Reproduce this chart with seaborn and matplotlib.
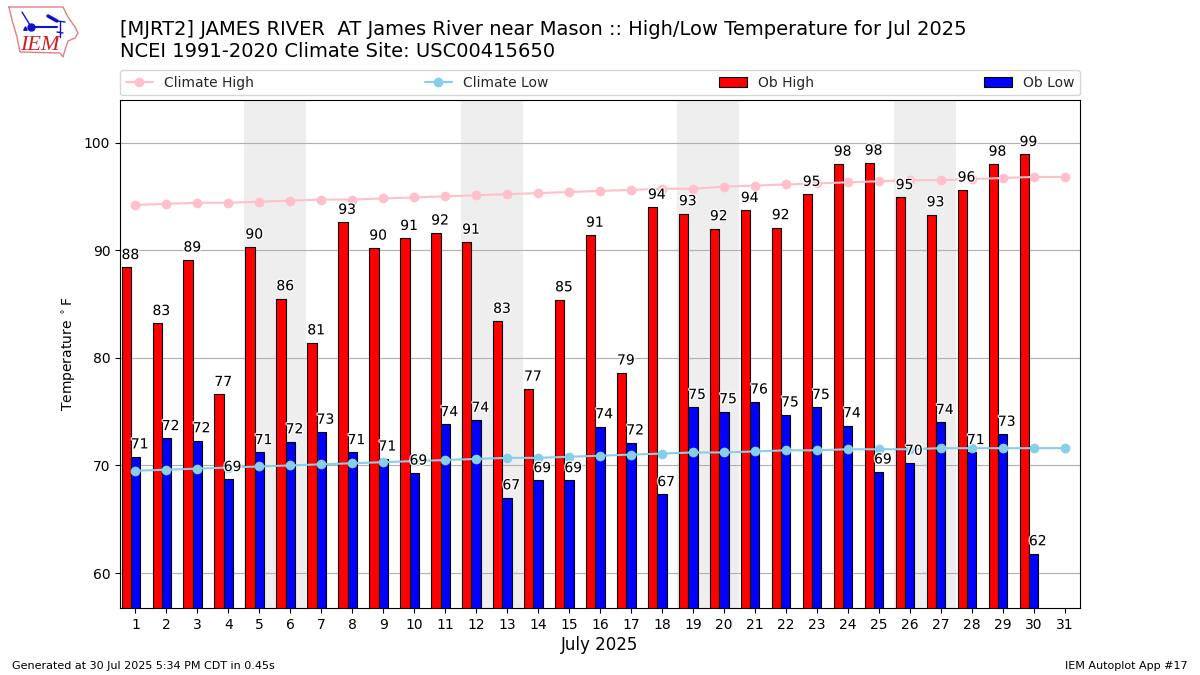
import numpy as np
import pandas as pd
import matplotlib
matplotlib.use("Agg")
import matplotlib.pyplot as plt
import matplotlib.patheffects as PathEffects
from matplotlib.patches import Patch
from matplotlib.lines import Line2D
import seaborn as sns

days = list(range(1, 32))
ob_high = [88.4, 83.2, 89.1, 76.6, 90.3, 85.5, 81.4, 92.6, 90.2, 91.1, 91.6, 90.75, 83.4, 77.1, 85.4,
           91.4, 78.6, 94.0, 93.4, 92.0, 93.7, 92.1, 95.2, 98.0, 98.1, 94.9, 93.3, 95.6, 98.0, 98.9, np.nan]
ob_low = [70.8, 72.5, 72.3, 68.7, 71.2, 72.2, 73.1, 71.2, 70.6, 69.3, 73.8, 74.2, 67.0, 68.6, 68.6,
          73.6, 72.1, 67.3, 75.4, 75.0, 75.9, 74.7, 75.4, 73.7, 69.4, 70.2, 74.0, 71.2, 72.9, 61.8, np.nan]
climate_high = [94.2, 94.3, 94.4, 94.4, 94.5, 94.6, 94.7, 94.7, 94.8, 94.9, 95.0, 95.1, 95.2, 95.3, 95.4, 95.5,
                95.6, 95.7, 95.7, 95.9, 96.0, 96.1, 96.2, 96.3, 96.4, 96.5, 96.5, 96.6, 96.7, 96.8, 96.8]
climate_low = [69.5, 69.6, 69.7, 69.8, 69.9, 70.0, 70.1, 70.2, 70.3, 70.4, 70.5, 70.6, 70.7, 70.7, 70.8, 70.9,
               71.0, 71.1, 71.2, 71.2, 71.3, 71.4, 71.4, 71.5, 71.5, 71.5, 71.6, 71.6, 71.6, 71.6, 71.6]
weekends = [5, 12, 19, 26]

title = ("[MJRT2] JAMES RIVER  AT James River near Mason :: High/Low Temperature for Jul 2025\n"
         "NCEI 1991-2020 Climate Site: USC00415650")

sns.set_theme(style="ticks", rc={"axes.linewidth": 0.8})
plt.rcParams["font.family"] = ["DejaVu Sans"]

fig = plt.figure(figsize=(12, 6.75), dpi=100)
ax = fig.add_axes([120 / 1200, 1 - 608 / 675, 960 / 1200, 508 / 675])

# weekend bands
for d in weekends:
    ax.axvspan(d - 0.5, d + 1.5, color="#eeeeee", lw=0, zorder=0)
ax.yaxis.grid(True, color="#b0b0b0", lw=0.8, zorder=1)
ax.set_axisbelow(True)

# bars, shifted so the pair sits left of the tick like the original
bars = pd.DataFrame({
    "day": [d - 0.15 for d in days] * 2,
    "temp": ob_high + ob_low,
    "kind": ["Ob High"] * 31 + ["Ob Low"] * 31,
})
sns.barplot(data=bars, x="day", y="temp", hue="kind", native_scale=True, width=0.6, saturation=1,
            palette={"Ob High": "red", "Ob Low": "blue"}, edgecolor="black", linewidth=0.8,
            legend=False, ax=ax, zorder=2)

sns.lineplot(x=days, y=climate_high, color="pink", marker="o", markersize=7, markeredgewidth=0,
             lw=1.5, ax=ax, zorder=3)
sns.lineplot(x=days, y=climate_low, color="skyblue", marker="o", markersize=7, markeredgewidth=0,
             lw=1.5, ax=ax, zorder=3)

# value labels
for d, hi, lo in zip(days, ob_high, ob_low):
    if np.isnan(hi):
        continue
    for x, v in ((d - 0.45, hi), (d - 0.15, lo)):
        t = ax.text(x, v + 0.5, f"{v:.0f}", ha="left", va="bottom", fontsize=10, color="black", zorder=4)
        t.set_path_effects([PathEffects.withStroke(linewidth=2, foreground="white", alpha=0.8)])

ax.set_xlim(0.5, 31.5)
ax.set_ylim(56.75, 103.95)
ax.set_xticks(days)
ax.set_xticklabels([str(d) for d in days])
ax.set_yticks([60, 70, 80, 90, 100])
ax.tick_params(labelsize=10, colors="black", length=3.5, width=0.8)
ax.set_xlabel("July 2025", fontsize=12, color="black", labelpad=3)
ax.set_ylabel(r"Temperature $^\circ$F", fontsize=10, color="black")
for s in ax.spines.values():
    s.set_visible(True)
    s.set_color("black")

handles = [
    Line2D([], [], color="pink", marker="o", markersize=7, markeredgewidth=0, lw=1.5, label="Climate High"),
    Line2D([], [], color="skyblue", marker="o", markersize=7, markeredgewidth=0, lw=1.5, label="Climate Low"),
    Patch(facecolor="red", edgecolor="black", lw=0.8, label="Ob High"),
    Patch(facecolor="blue", edgecolor="black", lw=0.8, label="Ob Low"),
]
ax.legend(handles=handles, ncol=4, mode="expand", loc="lower left", bbox_to_anchor=(0, 1.009, 1, 0.05),
          borderaxespad=0, fontsize=10, frameon=True, facecolor="white", edgecolor="#cccccc")

fig.text(120 / 1200, 1 - 61 / 675, title, fontsize=14, color="black", ha="left", va="bottom", linespacing=1.2)
fig.text(12 / 1200, 1 - 671 / 675, "Generated at 30 Jul 2025 5:34 PM CDT in 0.45s", fontsize=8, color="black",
         ha="left", va="bottom")
fig.text(1188 / 1200, 1 - 671 / 675, "IEM Autoplot App #17", fontsize=8, color="black", ha="right", va="bottom")

# logo, drawn in pixel space
logo = fig.add_axes([0, 1 - 62 / 675, 85 / 1200, 62 / 675])
logo.set_xlim(0, 85)
logo.set_ylim(62, 0)
logo.axis("off")
outline_x = [9, 63, 68, 75, 78, 75, 68, 65, 63, 60, 20, 17, 12, 9]
outline_y = [7, 7, 17, 27, 33, 38, 41, 50, 57, 53, 52, 37, 20, 7]
logo.plot(outline_x, outline_y, color="#e08080", lw=1)
logo.plot([32, 57], [27, 27], color="#1010d0", lw=1.5)
logo.plot([30, 22], [25, 12], color="#1010d0", lw=1)
logo.plot([48, 57], [16, 21], color="#1010d0", lw=2.5)
logo.plot([57, 65], [21, 22], color="#1010d0", lw=1)
logo.plot([60, 60], [22, 37], color="#1010d0", lw=1)
logo.plot([57, 63], [32, 33], color="#1010d0", lw=1)
logo.plot([31], [27], marker="o", color="#1010d0", ms=5)
logo.plot([25], [28], marker="^", color="#1010d0", ms=2.5)
logo.text(20, 45, "IEM", color="#d02020", fontsize=16, family="Liberation Serif", style="italic", va="center")

fig.savefig("out.png", dpi=100)
